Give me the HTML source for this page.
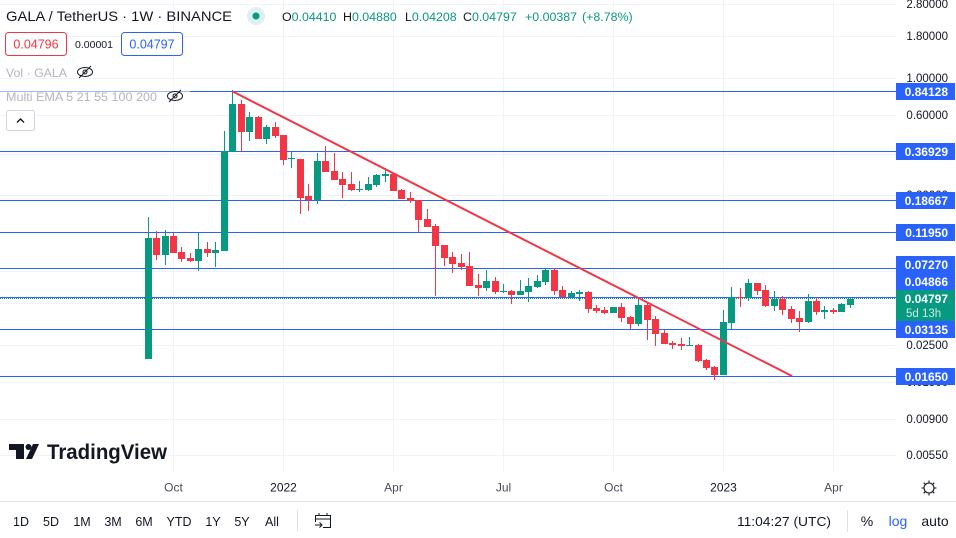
<!DOCTYPE html>
<html>
<head>
<meta charset="utf-8">
<title>GALA / TetherUS chart</title>
<style>
html,body{margin:0;padding:0;background:#fff;width:956px;height:538px;overflow:hidden}
svg{display:block;font-family:"Liberation Sans",sans-serif}
text{fill:#131722}
</style>
</head>
<body>
<svg id="chart" xmlns="http://www.w3.org/2000/svg" width="956" height="538" viewBox="0 0 956 538">
  <g id="grid"></g>
  <g id="levels"></g>
  <g id="candles"></g>
  <g id="trend"></g>
  <rect x="0" y="84" width="190" height="16" fill="#fff" fill-opacity="0.55"></rect>
  <g id="priceAxis"></g>
  <g id="timeAxis"></g>

  <text x="6" y="21" font-size="14" textLength="226" lengthAdjust="spacingAndGlyphs">GALA / TetherUS · 1W · BINANCE</text>
  <circle cx="256" cy="16" r="9" fill="#dff1ee"></circle>
  <circle cx="256" cy="16" r="3.5" fill="#089981"></circle>

  <g font-size="12.4">
    <text x="282" y="21">O<tspan style="fill:#089981">0.04410</tspan></text>
    <text x="343" y="21">H<tspan style="fill:#089981">0.04880</tspan></text>
    <text x="405" y="21">L<tspan style="fill:#089981">0.04208</tspan></text>
    <text x="463" y="21">C<tspan style="fill:#089981">0.04797</tspan></text>
    <text x="525" y="21" style="fill:#089981">+0.00387</text>
    <text x="582" y="21" style="fill:#089981">(+8.78%)</text>
  </g>

  <rect x="5.5" y="32.5" width="61" height="23" rx="3" fill="#fff" stroke="#f23645"></rect>
  <text x="36" y="48.5" font-size="12.5" text-anchor="middle" style="fill:#f23645">0.04796</text>
  <text x="94" y="48" font-size="10.5" text-anchor="middle">0.00001</text>
  <rect x="121.5" y="32.5" width="61" height="23" rx="3" fill="#fff" stroke="#2962ff"></rect>
  <text x="152" y="48.5" font-size="12.5" text-anchor="middle" style="fill:#2962ff">0.04797</text>

  <text x="6" y="77" font-size="12" textLength="61" lengthAdjust="spacingAndGlyphs" style="fill:#b2b5be">Vol · GALA</text>
  <g fill="none" stroke="#131722" stroke-width="1">
    <ellipse cx="85" cy="72" rx="7.5" ry="4.5"></ellipse><circle cx="85" cy="72" r="2"></circle><path d="M79 78 L91 66"></path>
  </g>
  <text x="6" y="101" font-size="12" textLength="151" lengthAdjust="spacingAndGlyphs" style="fill:#b2b5be">Multi EMA 5 21 55 100 200</text>
  <g fill="none" stroke="#131722" stroke-width="1">
    <ellipse cx="175" cy="96" rx="7.5" ry="4.5"></ellipse><circle cx="175" cy="96" r="2"></circle><path d="M169 102 L181 90"></path>
  </g>
  <rect x="6.5" y="110.5" width="28" height="20" rx="2" fill="#fff" stroke="#d1d4dc"></rect>
  <path d="M17 122.5 L20.5 119 L24 122.5" fill="none" stroke="#131722" stroke-width="1.4"></path>

  <g>
    <path d="M9 444H24V459H16V450H9Z M33 444H39L32 459H26Z" fill="#131722"></path>
    <circle cx="28.5" cy="447" r="3" fill="#131722"></circle>
    <text x="47" y="459" font-size="21" font-weight="bold" textLength="120" lengthAdjust="spacingAndGlyphs">TradingView</text>
  </g>

  <g fill="none" stroke="#131722" stroke-width="1.1">
    <circle cx="929" cy="488" r="5"></circle>
    <path d="M929 480.5V483 M929 493V495.5 M921.5 488H924 M934 488H936.5 M923.7 482.7L925.5 484.5 M932.5 491.5L934.3 493.3 M923.7 493.3L925.5 491.5 M932.5 484.5L934.3 482.7"></path>
  </g>

  <rect x="0" y="501" width="956" height="1" fill="#e0e3eb"></rect>

  <g font-size="12.5" text-anchor="middle">
    <text x="21" y="526">1D</text>
    <text x="51" y="526">5D</text>
    <text x="82" y="526">1M</text>
    <text x="113" y="526">3M</text>
    <text x="144" y="526">6M</text>
    <text x="179" y="526">YTD</text>
    <text x="213" y="526">1Y</text>
    <text x="242" y="526">5Y</text>
    <text x="272" y="526">All</text>
  </g>
  <rect x="297" y="510" width="1" height="22" fill="#e0e3eb"></rect>
  <g fill="none" stroke="#131722" stroke-width="1">
    <path d="M315.5 522V515.5H330.5V527.5H323 M315.5 519H330.5 M319 513V516 M327 513V516 M315 525H322 M319.5 522.5L322 525L319.5 527.5"></path>
  </g>
  <text x="737" y="526" font-size="13" textLength="94" lengthAdjust="spacingAndGlyphs">11:04:27 (UTC)</text>
  <rect x="847" y="510" width="1" height="22" fill="#e0e3eb"></rect>
  <text x="867" y="526" font-size="14" text-anchor="middle">%</text>
  <text x="898" y="526" font-size="14" text-anchor="middle" style="fill:#2962ff">log</text>
  <text x="935" y="526" font-size="14" text-anchor="middle">auto</text>
</svg>

<script>
const opens = [.0209,.1109,.0877,.1140,.0914,.0842,.0807,.0952,.0902,.0927,.3629,.7032,.4780,.5878,.4340,.5121,.4586,.3294,.3294,.1978,.1872,.3204,.2792,.2500,.2334,.2149,.2149,.2301,.2606,.2679,.2149,.1924,.1872,.1440,.1308,.1006,.0853,.0785,.0753,.0580,.0556,.0613,.0526,.0534,.0505,.0526,.0564,.0604,.0713,.0541,.0491,.0512,.0526,.0422,.0411,.0394,.0428,.0373,.0339,.0440,.0363,.0299,.0261,.0257,.0250,.0254,.0206,.0188,.0168,.0344,.0491,.0485,.0596,.0541,.0434,.0478,.0417,.0368,.0348,.0465,.0400,.0411,.0400,.0441];
const highs = [.1481,.1221,.1238,.1188,.0979,.0902,.1188,.1049,.1049,.4847,.8529,.7431,.6298,.5959,.5264,.5487,.4586,.3629,.3294,.2334,.3579,.3941,.3579,.2754,.2754,.2432,.2570,.2679,.2909,.2679,.2178,.2090,.1872,.1654,.1345,.1006,.0914,.0889,.0914,.0675,.0713,.0648,.0588,.0541,.0621,.0639,.0666,.0733,.0733,.0572,.0534,.0541,.0534,.0440,.0428,.0428,.0453,.0378,.0485,.0453,.0378,.0312,.0268,.0279,.0283,.0257,.0209,.0190,.0411,.0564,.0556,.0630,.0596,.0580,.0534,.0498,.0434,.0405,.0512,.0485,.0434,.0422,.0453,.0488];
const lows = [.0209,.0818,.0764,.0902,.0796,.0796,.0703,.0853,.0743,.0927,.3629,.3679,.4222,.4340,.4051,.4400,.3032,.2909,.1542,.1609,.1771,.2754,.2466,.1924,.2119,.2090,.2119,.2239,.2399,.2119,.1898,.1796,.1204,.1290,.0498,.0753,.0684,.0713,.0572,.0498,.0534,.0512,.0519,.0446,.0505,.0459,.0556,.0580,.0505,.0491,.0491,.0465,.0394,.0394,.0389,.0394,.0348,.0316,.0330,.0272,.0250,.0257,.0240,.0237,.0250,.0201,.0180,.0157,.0168,.0316,.0428,.0465,.0505,.0428,.0405,.0384,.0344,.0303,.0344,.0384,.0363,.0389,.0400,.04208];
const closes = [.1109,.0877,.1140,.0902,.0830,.0807,.0952,.0902,.0940,.3679,.7032,.4780,.5878,.4340,.5121,.4523,.3249,.3340,.1924,.1872,.3204,.2754,.2466,.2301,.2149,.2178,.2334,.2642,.2679,.2119,.1898,.1846,.1421,.1290,.0992,.0842,.0774,.0743,.0572,.0556,.0613,.0526,.0534,.0505,.0534,.0572,.0613,.0713,.0534,.0491,.0519,.0526,.0417,.0405,.0394,.0428,.0368,.0339,.0440,.0358,.0295,.0257,.0254,.0250,.0254,.0203,.0185,.0168,.0348,.0491,.0485,.0596,.0534,.0434,.0478,.0411,.0363,.0348,.0465,.0400,.0411,.0400,.0446,.04797];
const levelPrices = [0.84128,0.36929,0.18667,0.11950,0.07270,0.04866,0.03135,0.01650];
const levelLabels = ["0.84128","0.36929","0.18667","0.11950","0.07270","0.04866","0.03135","0.01650"];
const lastPrice = [0.04797];
const lastPriceLabel = ["0.04797"];
const countdownLabel = ["5d 13h"];
const priceTicks = [2.8,1.8,1,0.6,0.35,0.2,0.12,0.07,0.045,0.025,0.015,0.009,0.0055];
const priceTickLabels = ["2.80000","1.80000","1.00000","0.60000","0.35000","0.20000","0.12000","0.07000","0.04500","0.02500","0.01500","0.00900","0.00550"];
const timeTickIndex = [3,16,29,42,55,68,81];
const timeTickLabels = ["Oct","2022","Apr","Jul","Oct","2023","Apr"];
const trendIndex = [9.97,76.1];
const trendPrice = [0.84128,0.0165];

const NS = "http://www.w3.org/2000/svg";
function xAxis(i){ return 148.15 + 8.46 * i; }
function yAxis(p){ return 91.4 + 72.4 * Math.log(0.84128 / p); }
function snap(v){ return Math.round(v); }
function make(parent, tag, attrs){
  const el = document.createElementNS(NS, tag);
  for (const k in attrs) el.setAttribute(k, attrs[k]);
  parent.appendChild(el);
  return el;
}
const PLOT_RIGHT = 896, PLOT_BOTTOM = 473;
const gridG = document.getElementById('grid');
const levelG = document.getElementById('levels');
const candleG = document.getElementById('candles');
const trendG = document.getElementById('trend');
const priceG = document.getElementById('priceAxis');
const timeG = document.getElementById('timeAxis');

priceTicks.forEach((p, i) => {
  const y = Math.floor(yAxis(p));
  const line = make(gridG, 'rect', {x:0, y:y, width:PLOT_RIGHT, height:1, fill:'#f0f3fa'});
  
  
  const t = make(priceG, 'text', {x:948, y:y + 4, 'font-size':11.5, 'text-anchor':'end'});
  
  
  t.textContent = priceTickLabels[i];
});

timeTickIndex.forEach((idx, i) => {
  const x = Math.floor(xAxis(idx));
  const line = make(gridG, 'rect', {x:x, y:0, width:1, height:PLOT_BOTTOM, fill:'#f0f3fa'});
  
  
  const isYear = /^\d+$/.test(timeTickLabels[i]);
  const t = make(timeG, 'text', {x:x + 0.5, y:491.5, 'font-size':12, 'text-anchor':'middle'});
  
  
  if (!isYear) t.setAttribute('style', 'fill:#4a4e59');
  t.textContent = timeTickLabels[i];
});

levelPrices.forEach((p) => {
  const line = make(levelG, 'rect', {x:0, y:Math.floor(yAxis(p)), width:PLOT_RIGHT, height:1, fill:'#2962ff'});
  
  
});
const lastY = Math.floor(yAxis(lastPrice[0]));
const dots = make(levelG, 'line', {x1:0, x2:PLOT_RIGHT, y1:lastY + 0.5, y2:lastY + 0.5, stroke:'#089981', 'stroke-width':1, 'stroke-dasharray':'1 1', 'shape-rendering':'crispEdges'});



opens.forEach((o, i) => {
  const c = closes[i];
  const color = c >= o ? '#089981' : '#f23645';
  const cx = Math.floor(xAxis(i));
  const wick = make(candleG, 'rect', {x:cx, y:snap(yAxis(highs[i])), width:1, height:Math.max(1, snap(yAxis(lows[i])) - snap(yAxis(highs[i]))), fill:color});
  
  
  const top = snap(yAxis(Math.max(o, c)));
  const bottom = snap(yAxis(Math.min(o, c)));
  const body = make(candleG, 'rect', {x:cx - 3, y:top, width:7, height:Math.max(1, bottom - top), fill:color});
  
  
});

const trendLine = make(trendG, 'line', {x1:xAxis(trendIndex[0]), y1:yAxis(trendPrice[0]), x2:xAxis(trendIndex[1]), y2:yAxis(trendPrice[1]), stroke:'#f23645', 'stroke-width':2});



const BOX_H = 17, LAST_H = 31;
const lastTop = Math.round(yAxis(lastPrice[0]) - 9);
let limit = lastTop;
const tops = levelPrices.map((p) => Math.floor(yAxis(p)) - 8);
for (let i = levelPrices.length - 1; i >= 0; i--) {
  if (levelPrices[i] > lastPrice[0]) {
    tops[i] = Math.min(tops[i], limit - BOX_H);
    limit = tops[i];
  }
}
levelPrices.forEach((p, i) => {
  const box = make(priceG, 'rect', {x:896, y:tops[i], width:59, height:BOX_H, fill:'#2962ff'});
  
  
  const t = make(priceG, 'text', {x:948, y:tops[i] + 13, 'font-size':12, 'font-weight':'bold', 'text-anchor':'end', style:'fill:#fff'});
  
  
  t.textContent = levelLabels[i];
});
const lastBox = make(priceG, 'rect', {x:896, y:lastTop, width:59, height:LAST_H, fill:'#089981'});


const lastText = make(priceG, 'text', {x:948, y:lastTop + 13, 'font-size':12, 'font-weight':'bold', 'text-anchor':'end', style:'fill:#fff'});


lastText.textContent = lastPriceLabel[0];
const countdown = make(priceG, 'text', {x:906, y:lastTop + 27, 'font-size':11.5, style:'fill:#cdeae5'});


countdown.textContent = countdownLabel[0];
</script>
</body>
</html>
